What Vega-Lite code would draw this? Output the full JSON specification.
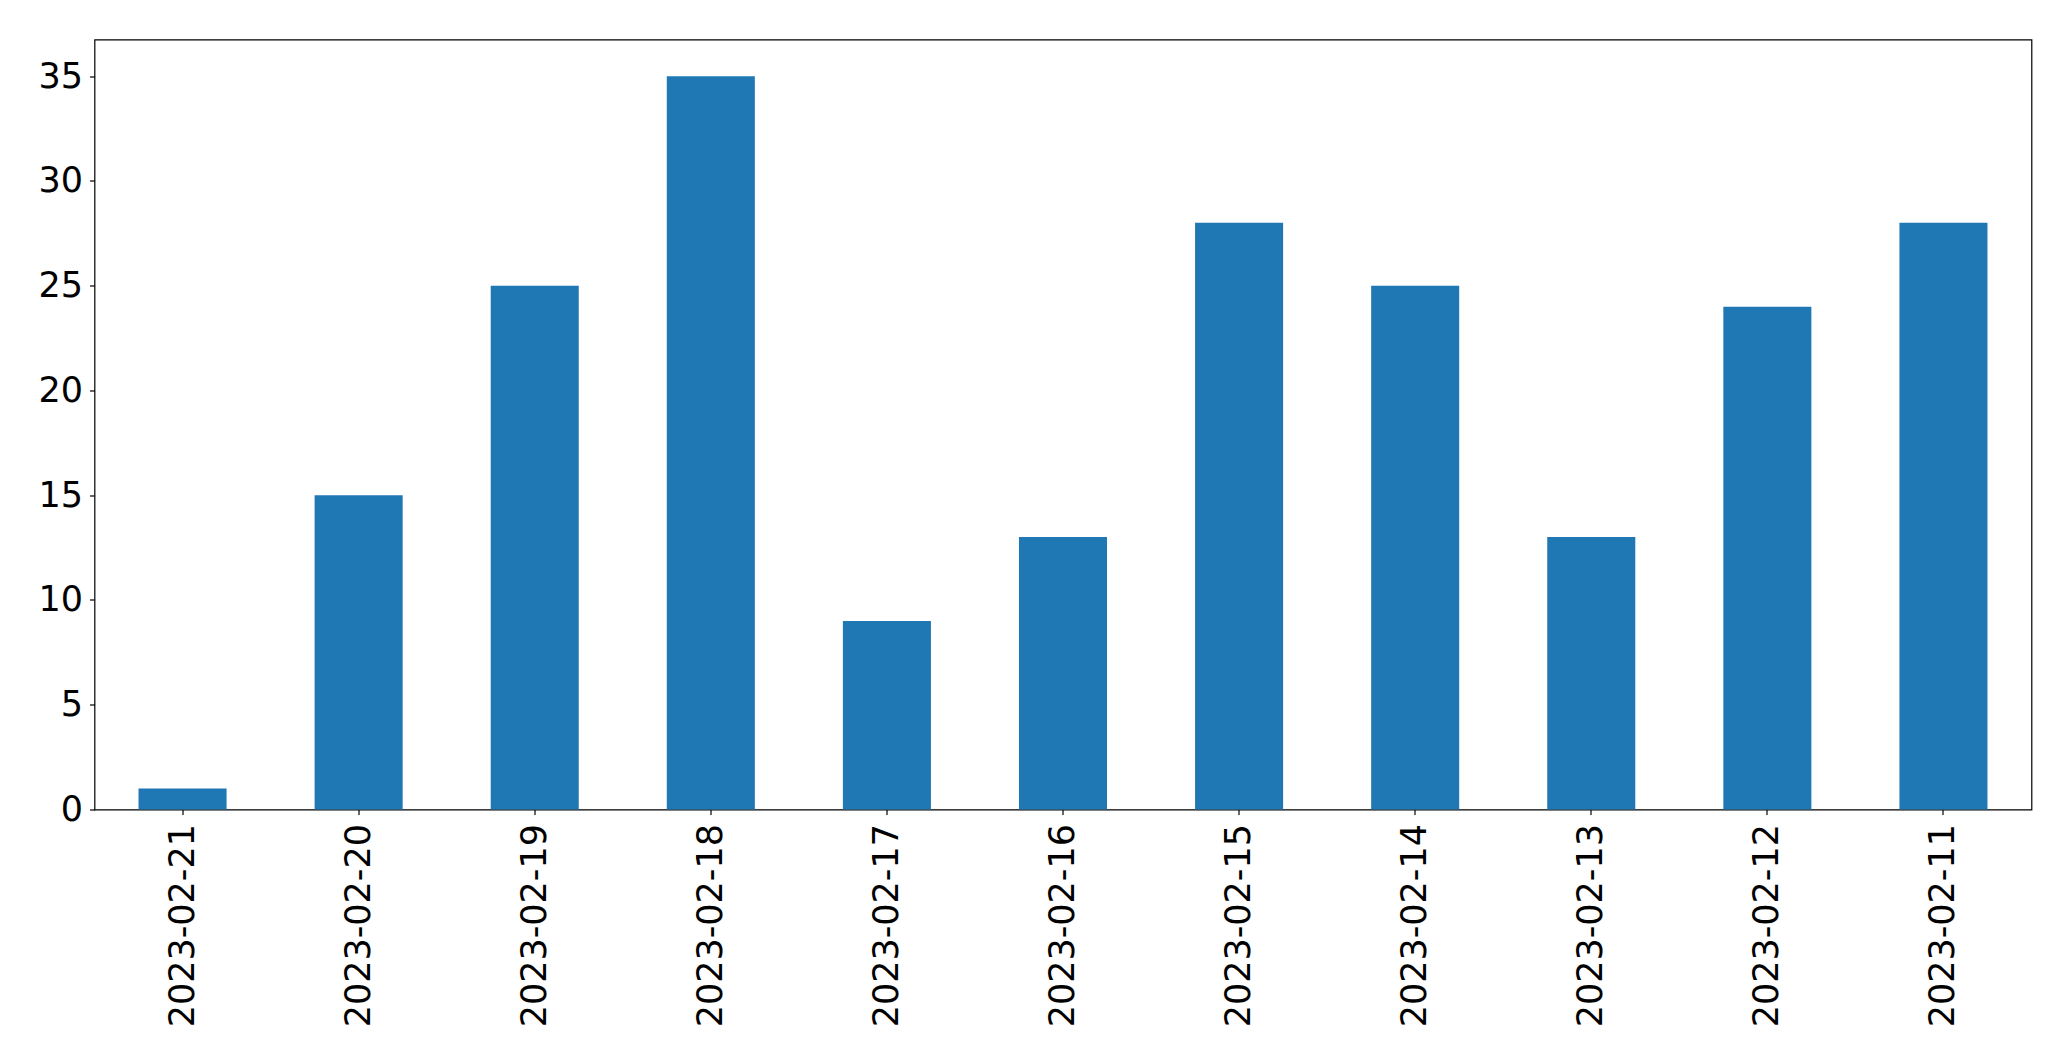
{
  "$schema": "https://vega.github.io/schema/vega-lite/v6.json",
  "autosize": {"type": "none"},
  "padding": {"left": 94.5, "top": 39.5, "right": 39.5, "bottom": 251.7},
  "width": 1937,
  "height": 770,
  "background": "white",
  "data": {
    "values": [
      {"date": "2023-02-21", "count": 1},
      {"date": "2023-02-20", "count": 15},
      {"date": "2023-02-19", "count": 25},
      {"date": "2023-02-18", "count": 35},
      {"date": "2023-02-17", "count": 9},
      {"date": "2023-02-16", "count": 13},
      {"date": "2023-02-15", "count": 28},
      {"date": "2023-02-14", "count": 25},
      {"date": "2023-02-13", "count": 13},
      {"date": "2023-02-12", "count": 24},
      {"date": "2023-02-11", "count": 28}
    ]
  },
  "mark": {"type": "bar", "color": "#1f77b4"},
  "encoding": {
    "x": {
      "field": "date",
      "type": "nominal",
      "sort": null,
      "scale": {"paddingInner": 0.5, "paddingOuter": 0.25},
      "axis": {"title": null, "labelAngle": 270, "labelPadding": 9, "labelLimit": 0}
    },
    "y": {
      "field": "count",
      "type": "quantitative",
      "scale": {"domain": [0, 36.75], "nice": false},
      "axis": {"title": null, "values": [0, 5, 10, 15, 20, 25, 30, 35], "labelPadding": 7}
    }
  },
  "config": {
    "view": {"stroke": "black", "strokeWidth": 1.2},
    "axis": {
      "domain": false,
      "grid": false,
      "ticks": true,
      "tickColor": "black",
      "tickSize": 5,
      "tickWidth": 1.2,
      "labelFont": "DejaVu Sans",
      "labelFontSize": 35,
      "labelColor": "black",
      "labelOverlap": false,
      "labelFlush": false,
      "labelLimit": 0
    }
  }
}
